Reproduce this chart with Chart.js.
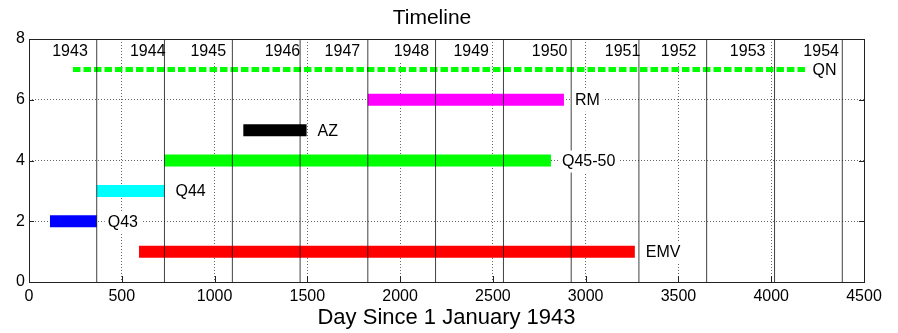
<!DOCTYPE html>
<html>
<head>
<meta charset="utf-8">
<title>Timeline</title>
<script src="https://cdn.jsdelivr.net/npm/chart.js@4.4.0/dist/chart.umd.min.js"></script>
<style>
  html, body { margin: 0; padding: 0; background: #fff; }
</style>
</head>
<body>
<canvas id="timeline" width="898" height="333"></canvas>
<script>
// Bars: one row each, start and end as day since 1 Jan 1943
const names = ['EMV', 'Q43', 'Q44', 'Q45-50', 'AZ', 'RM', 'QN'];
const rows = [1, 2, 3, 4, 5, 6, 7];
const startDays = [593, 113, 365, 730, 1155, 1826, 237];
const endDays = [3265, 365, 730, 2813, 1496, 2883, 4185];
const barColors = ['#ff0000', '#0000ff', '#00ffff', '#00ff00', '#000000', '#ff00ff', '#00ff00'];

// Year boundaries and year labels along the top
const yearStarts = [365, 730, 1096, 1461, 1826, 2191, 2557, 2922, 3287, 3652, 4018, 4383];
const yearNames = ['1943', '1944', '1945', '1946', '1947', '1948', '1949', '1950', '1951', '1952', '1953', '1954'];
const yearLabelDays = [221, 640, 966, 1366, 1689, 2061, 2383, 2806, 3199, 3501, 3873, 4269];

// Axes
const xRange = [0, 4500];
const xStep = 500;
const yRange = [0, 8];
const yStep = 2;

const FONT = '"Liberation Sans", Arial, Helvetica, sans-serif';
Chart.defaults.font.family = FONT;
Chart.defaults.color = '#000';

// year lines first so they are drawn on top of the bars
const yearLineSets = yearStarts.map(function (d) {
    return {
        data: [{ x: d, y: yRange[0] }, { x: d, y: yRange[1] }],
        borderColor: 'rgba(0,0,0,0.75)',
        borderWidth: 1,
        pointRadius: 0,
        showLine: true
    };
});

const barSets = names.map(function (n, i) {
    const dashed = n === 'QN';
    return {
        label: n,
        data: [{ x: startDays[i], y: rows[i] }, { x: endDays[i], y: rows[i] }],
        borderColor: barColors[i],
        borderWidth: dashed ? 5 : 12,
        borderDash: dashed ? [7.5, 3] : [],
        borderCapStyle: 'butt',
        pointRadius: 0,
        showLine: true
    };
});

function whiteLabel(ctx, text, x, y, padX) {
    const w = ctx.measureText(text).width;
    ctx.fillStyle = '#fff';
    ctx.fillRect(x - padX, y - 11, w + 2 * padX, 22);
    ctx.fillStyle = '#000';
    ctx.fillText(text, x, y);
}

const timelineDecor = {
    id: 'timelineDecor',
    beforeDatasetsDraw(chart) {
        const ctx = chart.ctx;
        const xs = chart.scales.x, ys = chart.scales.y;
        ctx.save();
        ctx.font = '16px ' + FONT;
        ctx.textBaseline = 'middle';
        ctx.textAlign = 'left';
        const py = ys.getPixelForValue(7.6);
        yearNames.forEach(function (yr, i) {
            const w = ctx.measureText(yr).width;
            const px = xs.getPixelForValue(yearLabelDays[i]) - w / 2;
            whiteLabel(ctx, yr, px, py, 1);
        });
        ctx.restore();
    },
    afterDatasetsDraw(chart) {
        const ctx = chart.ctx;
        const a = chart.chartArea;
        const xs = chart.scales.x, ys = chart.scales.y;
        ctx.save();

        // bar labels (QN sits tight against the last year line)
        ctx.font = '16px ' + FONT;
        ctx.textBaseline = 'middle';
        ctx.textAlign = 'left';
        names.forEach(function (n, i) {
            const gap = n === 'QN' ? 7 : 11;
            const px = xs.getPixelForValue(endDays[i]) + gap;
            const py = ys.getPixelForValue(rows[i]) + 1;
            whiteLabel(ctx, n, px, py, n === 'QN' ? 1 : 3);
        });

        // frame and inner tick marks
        ctx.strokeStyle = '#222';
        ctx.lineWidth = 1;
        ctx.setLineDash([]);
        ctx.strokeRect(Math.round(a.left) + 0.5, Math.round(a.top) + 0.5,
            Math.round(a.right - a.left), Math.round(a.bottom - a.top));
        ctx.beginPath();
        ys.ticks.forEach(function (t) {
            const py = Math.round(ys.getPixelForValue(t.value)) + 0.5;
            ctx.moveTo(a.left, py); ctx.lineTo(a.left + 5, py);
            ctx.moveTo(a.right - 5, py); ctx.lineTo(a.right, py);
        });
        xs.ticks.forEach(function (t) {
            const px = Math.round(xs.getPixelForValue(t.value)) + 0.5;
            ctx.moveTo(px, a.bottom); ctx.lineTo(px, a.bottom - 6);
        });
        ctx.stroke();
        ctx.restore();
    }
};

new Chart(document.getElementById('timeline'), {
    type: 'scatter',
    data: { datasets: yearLineSets.concat(barSets) },
    options: {
        responsive: false,
        animation: false,
        layout: { padding: { top: 0, right: 34, bottom: 0, left: 0 } },
        plugins: {
            legend: { display: false },
            tooltip: { enabled: false },
            title: {
                display: true,
                text: 'Timeline',
                color: '#000',
                font: { size: 21, weight: 'normal' },
                padding: { top: 6, bottom: 7.8 }
            }
        },
        scales: {
            x: {
                type: 'linear',
                min: xRange[0],
                max: xRange[1],
                ticks: {
                    stepSize: xStep, padding: 5, maxRotation: 0, autoSkip: false, font: { size: 16 },
                    callback: function (v) { return String(v); }
                },
                grid: { color: '#666', drawTicks: false },
                border: { display: false, dash: [1, 2] },
                title: {
                    display: true,
                    text: 'Day Since 1 January 1943',
                    font: { size: 22 },
                    padding: { top: 0, bottom: 2 }
                },
                afterFit: function (s) { s.height = 51; }
            },
            y: {
                type: 'linear',
                min: yRange[0],
                max: yRange[1],
                ticks: { stepSize: yStep, padding: 4, font: { size: 16 } },
                grid: { color: '#666', drawTicks: false },
                border: { display: false, dash: [1, 2] },
                afterFit: function (s) { s.width = 29; }
            }
        }
    },
    plugins: [timelineDecor]
});
</script>
</body>
</html>
